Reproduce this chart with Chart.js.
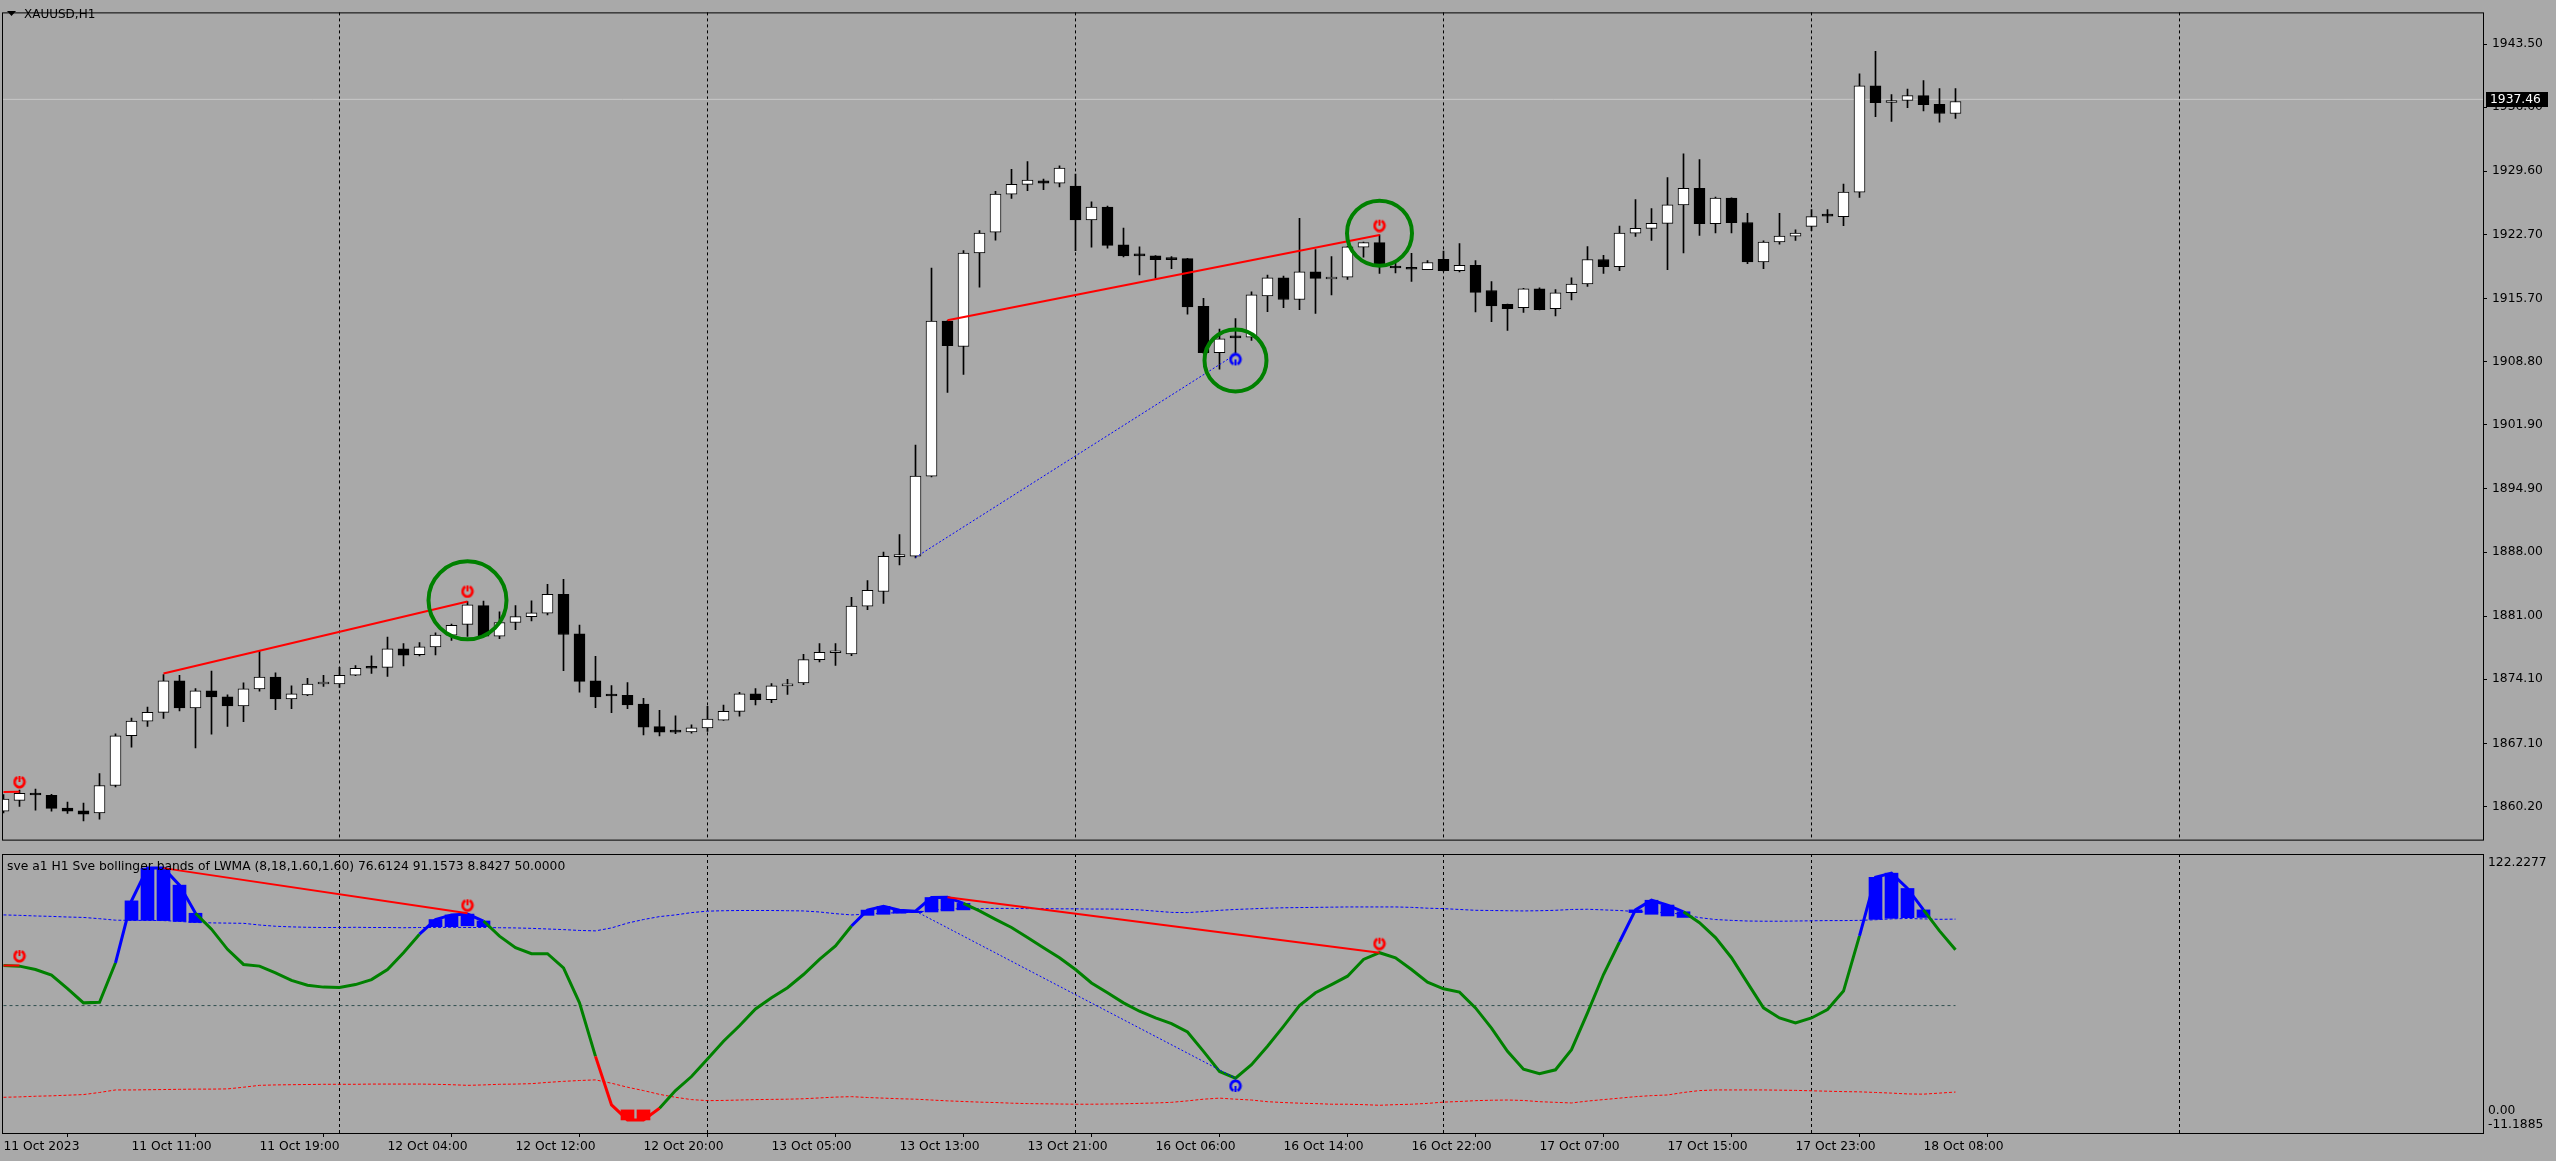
<!DOCTYPE html>
<html lang="en">
<head>
<meta charset="UTF-8">
<title>XAUUSD,H1</title>
<script src="https://cdn.jsdelivr.net/npm/chart.js"></script>
<style>
  body { margin: 0; background: #a9a9a9; overflow: hidden; }
  #priceChart, #oscChart { position: absolute; left: 0; }
  #priceChart { top: 0; }
  #oscChart { top: 853px; }
</style>
</head>
<body>
<canvas id="priceChart" width="2556" height="853"></canvas>
<canvas id="oscChart" width="2556" height="308"></canvas>

<script>
// time axis: one label every 8 bars
const timeLabels = ['11 Oct 2023', '11 Oct 11:00', '11 Oct 19:00', '12 Oct 04:00', '12 Oct 12:00', '12 Oct 20:00',
  '13 Oct 05:00', '13 Oct 13:00', '13 Oct 21:00', '16 Oct 06:00', '16 Oct 14:00', '16 Oct 22:00',
  '17 Oct 07:00', '17 Oct 15:00', '17 Oct 23:00', '18 Oct 08:00'];
const timeTickBars = [0, 8, 16, 24, 32, 40, 48, 56, 64, 72, 80, 88, 96, 104, 112, 120];
const daySeparators = [21, 44, 67, 90, 113, 136];
const priceTicks = [1860.20, 1867.10, 1874.10, 1881.00, 1888.00, 1894.90, 1901.90, 1908.80, 1915.70,
  1922.70, 1929.60, 1936.60, 1943.50];
const bidPrice = 1937.46;
const oscTicks = [122.2277, 0, -11.1885];
const oscTickText = ['122.2277', '0.00', '-11.1885'];

// XAUUSD H1 candles, bar 0 = 11 Oct 03:00
const opens = [
  1859.70, 1860.86, 1861.60, 1861.42, 1860.03, 1859.72, 1859.50, 1862.49, 1867.93, 1869.53,
  1870.49, 1873.93, 1870.98, 1872.83, 1872.19, 1871.20, 1873.05, 1874.33, 1871.94, 1872.40,
  1873.58, 1873.58, 1874.54, 1875.35, 1875.40, 1877.42, 1876.79, 1877.64, 1878.92, 1880.09,
  1882.15, 1878.81, 1880.30, 1880.94, 1881.33, 1883.39, 1879.06, 1873.94, 1872.30, 1872.34,
  1871.38, 1868.93, 1868.47, 1868.36, 1868.79, 1869.64, 1870.60, 1872.52, 1871.88, 1873.37,
  1873.69, 1876.25, 1877.00, 1876.88, 1882.09, 1883.69, 1887.50, 1887.54, 1896.30, 1913.24,
  1910.46, 1920.67, 1922.95, 1927.10, 1928.17, 1928.55, 1928.29, 1927.98, 1924.29, 1925.70,
  1921.58, 1920.40, 1920.36, 1920.00, 1920.06, 1914.84, 1909.78, 1911.50, 1911.49, 1915.99,
  1917.97, 1915.59, 1918.61, 1917.83, 1918.04, 1921.31, 1921.81, 1919.10, 1918.95, 1918.86,
  1919.99, 1918.75, 1919.32, 1916.58, 1915.06, 1914.70, 1916.76, 1914.59, 1916.33, 1917.29,
  1919.96, 1919.18, 1922.84, 1923.37, 1923.91, 1925.93, 1927.74, 1923.87, 1926.68, 1924.01,
  1919.71, 1921.88, 1922.52, 1923.59, 1924.72, 1924.65, 1927.32, 1938.94, 1937.12, 1937.34,
  1937.87, 1936.91, 1935.92];
const highs = [
  1861.50, 1862.00, 1862.10, 1861.53, 1860.68, 1860.57, 1863.80, 1868.14, 1869.85, 1871.06,
  1874.61, 1874.54, 1873.08, 1875.00, 1872.40, 1873.72, 1877.20, 1874.80, 1873.37, 1874.20,
  1874.54, 1875.40, 1875.60, 1876.67, 1878.70, 1877.99, 1878.10, 1879.17, 1880.13, 1882.58,
  1882.65, 1881.48, 1882.15, 1882.68, 1884.46, 1885.03, 1880.02, 1876.61, 1873.41, 1873.73,
  1872.02, 1870.71, 1870.10, 1869.11, 1871.13, 1871.28, 1872.66, 1873.09, 1873.62, 1874.08,
  1876.82, 1877.99, 1877.99, 1883.05, 1884.87, 1888.00, 1889.90, 1899.70, 1919.03, 1913.30,
  1920.94, 1923.11, 1927.41, 1929.81, 1930.65, 1928.74, 1930.19, 1929.31, 1926.27, 1925.81,
  1923.41, 1921.35, 1920.40, 1920.29, 1920.10, 1915.72, 1912.37, 1913.51, 1916.44, 1918.27,
  1918.15, 1924.47, 1921.06, 1920.28, 1921.40, 1921.88, 1922.66, 1919.60, 1920.64, 1919.85,
  1920.88, 1921.70, 1919.85, 1917.54, 1915.10, 1916.80, 1916.87, 1916.69, 1917.97, 1921.38,
  1920.42, 1923.62, 1926.50, 1925.54, 1928.92, 1931.51, 1930.87, 1926.78, 1926.70, 1925.01,
  1921.99, 1925.01, 1923.20, 1925.43, 1925.43, 1928.21, 1940.25, 1942.70, 1937.98, 1938.58,
  1939.51, 1938.65, 1938.65];
const lows = [
  1859.50, 1860.22, 1859.80, 1859.68, 1859.43, 1858.62, 1858.80, 1862.35, 1866.68, 1868.96,
  1869.81, 1870.63, 1866.61, 1868.10, 1868.96, 1869.46, 1872.80, 1870.77, 1870.88, 1872.30,
  1873.33, 1873.22, 1874.50, 1874.75, 1874.40, 1875.57, 1876.64, 1876.75, 1878.35, 1878.77,
  1878.80, 1878.53, 1879.52, 1880.48, 1881.12, 1875.04, 1872.70, 1871.00, 1870.46, 1870.89,
  1868.01, 1867.90, 1868.15, 1868.22, 1868.40, 1869.60, 1870.07, 1871.31, 1871.53, 1872.45,
  1873.52, 1876.00, 1875.62, 1876.68, 1881.71, 1882.40, 1886.60, 1887.35, 1896.20, 1905.44,
  1907.42, 1916.94, 1922.08, 1926.65, 1927.49, 1927.60, 1927.90, 1920.94, 1921.32, 1921.20,
  1920.25, 1918.27, 1917.89, 1918.96, 1914.00, 1909.70, 1907.99, 1909.70, 1911.11, 1914.27,
  1914.70, 1914.49, 1914.06, 1916.09, 1917.79, 1920.21, 1918.43, 1918.50, 1917.58, 1918.85,
  1918.70, 1918.60, 1914.24, 1913.17, 1912.21, 1914.17, 1914.45, 1913.81, 1915.55, 1917.01,
  1918.43, 1918.75, 1922.48, 1922.06, 1918.86, 1920.67, 1922.59, 1922.87, 1922.87, 1919.50,
  1918.96, 1921.63, 1922.06, 1923.12, 1923.98, 1923.66, 1926.75, 1935.56, 1935.06, 1936.56,
  1936.20, 1934.96, 1935.38];
const closes = [
  1861.00, 1861.64, 1861.45, 1860.00, 1859.68, 1859.36, 1862.49, 1867.93, 1869.53, 1870.49,
  1873.93, 1870.98, 1872.83, 1872.16, 1871.20, 1873.05, 1874.33, 1871.94, 1872.51, 1873.58,
  1873.60, 1874.54, 1875.30, 1875.30, 1877.42, 1876.74, 1877.64, 1878.92, 1879.98, 1882.22,
  1878.81, 1880.30, 1880.94, 1881.37, 1883.39, 1878.99, 1873.87, 1872.17, 1872.27, 1871.31,
  1868.86, 1868.33, 1868.33, 1868.79, 1869.75, 1870.60, 1872.52, 1871.88, 1873.37, 1873.59,
  1876.25, 1877.03, 1877.05, 1882.09, 1883.81, 1887.54, 1887.54, 1896.30, 1913.24, 1910.54,
  1920.67, 1922.84, 1927.10, 1928.17, 1928.63, 1928.30, 1929.96, 1924.29, 1925.70, 1921.51,
  1920.36, 1920.36, 1919.95, 1919.95, 1914.77, 1909.78, 1911.30, 1911.40, 1916.10, 1917.97,
  1915.59, 1918.61, 1917.90, 1918.04, 1921.35, 1921.81, 1919.50, 1919.03, 1918.90, 1919.64,
  1918.75, 1919.32, 1916.37, 1914.88, 1914.59, 1916.76, 1914.49, 1916.33, 1917.29, 1919.96,
  1919.18, 1922.84, 1923.37, 1923.91, 1925.93, 1927.74, 1923.87, 1926.68, 1923.98, 1919.71,
  1921.88, 1922.52, 1922.84, 1924.65, 1924.70, 1927.32, 1938.94, 1937.09, 1937.34, 1937.87,
  1936.88, 1935.92, 1937.23];

// Sve bollinger bands of LWMA
const oscValues = [
  69.1, 68.8, 67.2, 64.5, 58.1, 51.3, 51.6, 70.4, 99.9, 115.5,
  115.5, 107.4, 94.0, 86.4, 76.8, 69.6, 68.8, 65.6, 62.0, 59.7,
  58.8, 58.6, 60.0, 62.4, 67.2, 75.2, 84.0, 91.0, 93.2, 93.6,
  90.3, 83.1, 77.6, 74.7, 74.7, 68.0, 51.3, 25.8, 2.7, -4.5,
  -4.5, 1.1, 9.5, 16.2, 24.5, 33.0, 40.4, 48.4, 53.7, 58.5,
  64.8, 72.0, 78.4, 87.9, 95.5, 97.3, 95.4, 95.0, 101.5, 101.6,
  98.7, 95.1, 91.1, 87.2, 82.4, 77.6, 72.8, 67.2, 60.8, 56.1,
  51.3, 47.3, 44.1, 41.4, 37.4, 28.2, 18.6, 15.4, 21.8, 30.6,
  40.1, 50.0, 56.1, 60.0, 64.0, 72.0, 75.2, 72.8, 67.2, 61.2,
  58.0, 56.4, 48.9, 39.3, 28.2, 19.7, 17.5, 19.4, 29.0, 46.5,
  64.8, 80.3, 95.6, 100.2, 97.9, 94.7, 89.5, 82.4, 72.8, 60.8,
  48.9, 44.1, 41.7, 44.1, 48.1, 56.9, 83.2, 111.1, 113.1, 105.8,
  95.6, 85.6, 76.6];
const upperBand = [
  93.2, 93.0, 92.7, 92.5, 92.2, 92.0, 91.4, 90.7, 90.6, 90.6,
  90.5, 90.1, 89.6, 89.4, 89.3, 89.2, 88.4, 87.8, 87.5, 87.3,
  87.2, 87.2, 87.3, 87.2, 87.2, 87.1, 87.2, 87.2, 87.3, 87.2,
  87.2, 87.1, 87.0, 86.8, 86.5, 86.2, 85.8, 85.6, 87.0, 89.3,
  91.0, 92.4, 93.2, 94.3, 95.0, 95.2, 95.3, 95.3, 95.3, 95.2,
  95.1, 94.6, 93.8, 93.2, 93.6, 94.0, 94.3, 94.4, 95.4, 96.0,
  96.2, 96.2, 96.3, 96.3, 96.2, 96.2, 96.1, 96.1, 96.0, 96.0,
  95.9, 95.6, 95.0, 94.4, 94.3, 94.8, 95.4, 95.8, 96.1, 96.4,
  96.6, 96.7, 96.8, 96.9, 97.0, 97.0, 97.0, 97.0, 96.8, 96.4,
  96.2, 95.8, 95.4, 95.3, 95.2, 95.1, 95.2, 95.4, 95.8, 95.9,
  95.6, 95.3, 94.8, 94.5, 94.3, 93.4, 91.9, 91.0, 90.6, 90.3,
  90.2, 90.2, 90.3, 90.4, 90.5, 90.5, 90.6, 90.9, 91.3, 91.5,
  91.3, 91.1, 91.2];
const lowerBand = [
  6.3, 6.5, 6.8, 7.0, 7.3, 7.6, 8.6, 9.8, 9.8, 9.9,
  10.0, 10.1, 10.2, 10.2, 10.3, 11.1, 12.0, 12.2, 12.3, 12.4,
  12.5, 12.5, 12.5, 12.6, 12.6, 12.6, 12.6, 12.5, 12.3, 12.0,
  12.2, 12.5, 12.6, 12.8, 13.4, 13.9, 14.3, 14.6, 13.0, 11.1,
  9.5, 7.7, 6.3, 5.2, 4.7, 4.8, 5.0, 5.2, 5.3, 5.4,
  5.6, 6.0, 6.4, 6.6, 6.2, 5.9, 5.6, 5.4, 5.0, 4.6,
  4.3, 4.0, 3.8, 3.5, 3.3, 3.2, 3.1, 3.0, 3.0, 3.1,
  3.2, 3.4, 3.6, 3.9, 4.6, 5.4, 5.9, 5.4, 5.0, 4.2,
  3.8, 3.5, 3.3, 3.0, 3.0, 2.8, 2.5, 2.8, 3.0, 3.4,
  4.0, 4.3, 4.7, 4.9, 5.0, 4.8, 4.2, 3.9, 3.6, 4.5,
  5.2, 5.9, 6.6, 7.1, 7.4, 8.6, 9.5, 9.8, 9.8, 9.8,
  9.8, 9.7, 9.6, 9.4, 9.2, 9.0, 8.9, 8.6, 8.3, 7.9,
  7.8, 8.3, 8.8];
const midLevel = 50;
const histBars = [8, 9, 10, 11, 12, 27, 28, 29, 30, 39, 40, 54, 55, 56, 57, 58, 59, 60, 102, 103, 104, 105, 117, 118, 119, 120];
const histBase = [90.6, 90.6, 90.5, 90.1, 89.6, 87.6, 87.6, 88.0, 87.6, 0.3, 0.3, 93.0, 93.5, 94.0, 94.3, 94.6, 95.1, 95.6,
  94.3, 93.5, 92.7, 92.0, 91.1, 91.6, 91.9, 92.0];

// drawn objects: [bar, value]
const redLinesPrice = [[[0, 1861.78], [1, 1861.80]], [[10, 1874.72], [29, 1882.60]], [[59, 1913.32], [86, 1922.63]]];
const blueLinePrice = [[57, 1887.42], [77, 1909.59]];
const redLinesOsc = [[[0, 69.1], [1, 69.1]], [[10, 115.5], [29, 94.0]], [[59, 101.6], [86, 75.2]]];
const blueLineOsc = [[57, 95.0], [77, 15.4]];
const circleMarks = [[29, 1882.72], [77, 1908.94], [86, 1922.84]];
const redArrowsPrice = [[1, 1862.88], [29, 1883.70], [86, 1923.66]];
const blueArrowsPrice = [[77, 1909.05]];
const redArrowsOsc = [[1, 73.6], [29, 97.8], [86, 79.5]];
const blueArrowsOsc = [[77, 11.7]];

const xMin = -0.09375, xMax = 155.03125;
const priceMin = 1856.47, priceMax = 1946.964;
const oscMin = -11.1885, oscMax = 122.2277;

const axisFont = '12.3px "DejaVu Sans"';
Chart.defaults.font.family = '"DejaVu Sans", sans-serif';
Chart.defaults.font.size = 12.3;
Chart.defaults.color = '#000';

const pts = arr => arr.map(([x, y]) => ({ x, y }));

function arrowGlyph(color, gapTop) {
  const c = document.createElement('canvas');
  c.width = 14; c.height = 14;
  const g = c.getContext('2d');
  g.strokeStyle = color;
  g.lineWidth = 2.8;
  const gapAt = gapTop ? -Math.PI / 2 : Math.PI / 2;
  g.beginPath();
  g.ellipse(7, 7, 4.8, 5.2, 0, gapAt + 0.45, gapAt - 0.45 + Math.PI * 2);
  g.stroke();
  g.lineWidth = 2;
  g.beginPath();
  g.moveTo(7, gapTop ? 1 : 13);
  g.lineTo(7, 7);
  g.stroke();
  return c;
}
const redArrow = arrowGlyph('#ff0000', true);
const blueArrow = arrowGlyph('#0000ff', false);

function lineSet(points, color, width, dash, order) {
  return { type: 'line', data: pts(points), borderColor: color, borderWidth: width, borderDash: dash || [],
    pointRadius: 0, tension: 0, fill: false, order: order };
}

function markSet(points, glyph, order) {
  return { type: 'scatter', data: pts(points), pointStyle: glyph, pointRadius: 7, order: order };
}

const paneDecor = {
  id: 'paneDecor',
  beforeDatasetsDraw(chart) {
    const { ctx, chartArea: a, scales: { x } } = chart;
    ctx.save();
    ctx.strokeStyle = '#000';
    ctx.lineWidth = 1;
    ctx.setLineDash([3, 3]);
    daySeparators.forEach(b => {
      const px = x.getPixelForValue(b);
      ctx.beginPath();
      ctx.moveTo(px, a.top);
      ctx.lineTo(px, a.bottom);
      ctx.stroke();
    });
    ctx.restore();
  },
  afterDraw(chart, args, opts) {
    const { ctx, chartArea: a, scales: { y } } = chart;
    ctx.save();
    ctx.strokeStyle = '#000';
    ctx.lineWidth = 1;
    ctx.strokeRect(a.left + 0.5, a.top + 0.5, a.right - a.left - 1, a.bottom - a.top - 1);
    ctx.font = opts.titleFont;
    ctx.fillStyle = '#000';
    ctx.textBaseline = 'middle';
    ctx.textAlign = 'left';
    if (opts.triangle) {
      ctx.beginPath();
      ctx.moveTo(7, 11); ctx.lineTo(16, 11); ctx.lineTo(11.5, 16); ctx.closePath();
      ctx.fill();
    }
    ctx.fillText(opts.title, opts.titleX, opts.titleY);
    ctx.font = axisFont;
    if (opts.bid) {
      const py = Math.round(y.getPixelForValue(bidPrice));
      ctx.fillRect(a.right + 2, py - 7, 62, 15);
      ctx.fillStyle = '#fff';
      ctx.fillText(bidPrice.toFixed(2), a.right + 6, py + 1);
    }
    if (opts.oscLabels) {
      oscTicks.forEach((v, i) => {
        const py = Math.min(Math.max(y.getPixelForValue(v), a.top + 9), a.bottom - 9);
        ctx.fillText(oscTickText[i], a.right + 4, py);
      });
    }
    ctx.restore();
  }
};

// price pane
new Chart(document.getElementById('priceChart'), {
  type: 'bar',
  data: {
    datasets: [
      { type: 'scatter', data: pts(circleMarks), pointStyle: 'circle', pointRadius: [39, 31, 32.5],
        pointBorderWidth: 4, pointBorderColor: '#008000', pointBackgroundColor: 'rgba(0,0,0,0)', order: 0 },
      markSet(redArrowsPrice, redArrow, 1),
      markSet(blueArrowsPrice, blueArrow, 1),
      ...redLinesPrice.map(l => lineSet(l, '#ff0000', 2, null, 2)),
      lineSet(blueLinePrice, '#0000ff', 1, [2, 2], 2),
      { type: 'bar', data: opens.map((o, i) => ({ x: i, y: [o, closes[i]] })),
        backgroundColor: opens.map((o, i) => closes[i] >= o ? '#ffffff' : '#000000'),
        borderColor: '#000', borderWidth: 1, borderSkipped: false, barThickness: 11, minBarLength: 2,
        grouped: false, order: 3 },
      { type: 'bar', data: highs.map((h, i) => ({ x: i, y: [lows[i], h] })),
        backgroundColor: '#000', barThickness: 1, grouped: false, order: 4 },
      lineSet([[xMin, bidPrice], [xMax, bidPrice]], '#c8c8c8', 1, null, 5)
    ]
  },
  options: {
    responsive: false,
    animation: false,
    events: [],
    layout: { autoPadding: false, padding: { left: 2, top: 3, right: 0, bottom: 1 } },
    plugins: {
      legend: { display: false },
      tooltip: { enabled: false },
      paneDecor: { title: 'XAUUSD,H1', titleFont: '12px "DejaVu Sans"', titleX: 24, titleY: 14.5, triangle: true, bid: true }
    },
    scales: {
      x: { type: 'linear', display: false, min: xMin, max: xMax, offset: false },
      y: {
        position: 'right', min: priceMin, max: priceMax,
        afterBuildTicks: s => { s.ticks = priceTicks.map(v => ({ value: v })); },
        afterFit: s => { s.width = 72; },
        ticks: { autoSkip: false, padding: 5, callback: v => v.toFixed(2) },
        grid: { drawOnChartArea: false, tickLength: 3, color: '#000' },
        border: { display: false }
      }
    }
  },
  plugins: [paneDecor]
});

// oscillator pane
const oscState = i => oscValues[i] > upperBand[i] ? '#0000ff' : (oscValues[i] < lowerBand[i] ? '#ff0000' : '#008000');

new Chart(document.getElementById('oscChart'), {
  type: 'bar',
  data: {
    datasets: [
      markSet(redArrowsOsc, redArrow, 0),
      markSet(blueArrowsOsc, blueArrow, 0),
      ...redLinesOsc.map(l => lineSet(l, '#ff0000', 2, null, 1)),
      lineSet(blueLineOsc, '#0000ff', 1, [2, 2], 1),
      { type: 'line', data: oscValues.map((v, i) => ({ x: i, y: v })), borderWidth: 3, pointRadius: 0, tension: 0,
        borderColor: '#008000', segment: { borderColor: c => oscState(c.p1DataIndex) }, order: 2 },
      { type: 'bar', data: histBars.map((b, k) => ({ x: b, y: [histBase[k], oscValues[b]] })),
        backgroundColor: histBars.map((b, k) => oscValues[b] < histBase[k] ? '#ff0000' : '#0000ff'),
        barThickness: 13, grouped: false, order: 3 },
      { type: 'line', data: upperBand.map((v, i) => ({ x: i, y: v })), borderColor: '#0000ff', borderWidth: 1,
        borderDash: [3, 2], pointRadius: 0, tension: 0, order: 4 },
      { type: 'line', data: lowerBand.map((v, i) => ({ x: i, y: v })), borderColor: '#ff0000', borderWidth: 1,
        borderDash: [3, 2], pointRadius: 0, tension: 0, order: 4 },
      lineSet([[0, midLevel], [oscValues.length - 1, midLevel]], '#2f4f4f', 1, [3, 3], 5)
    ]
  },
  options: {
    responsive: false,
    animation: false,
    events: [],
    layout: { autoPadding: false, padding: { left: 2, top: 1, right: 0, bottom: 0 } },
    plugins: {
      legend: { display: false },
      tooltip: { enabled: false },
      paneDecor: {
        title: 'sve a1 H1 Sve bollinger bands of LWMA (8,18,1.60,1.60) 76.6124 91.1573 8.8427 50.0000',
        titleFont: axisFont, titleX: 7, titleY: 14, oscLabels: true
      }
    },
    scales: {
      x: {
        type: 'linear', min: xMin, max: xMax, offset: false,
        afterBuildTicks: s => { s.ticks = timeTickBars.map(v => ({ value: v })); },
        afterFit: s => { s.height = 27; },
        ticks: { align: 'start', padding: 2, maxRotation: 0, autoSkip: false, callback: (v, i) => timeLabels[i] },
        grid: { drawOnChartArea: false, tickLength: 3, color: '#000' },
        border: { display: false }
      },
      y: {
        position: 'right', min: oscMin, max: oscMax,
        afterFit: s => { s.width = 72; },
        ticks: { display: false },
        grid: { display: false },
        border: { display: false }
      }
    }
  },
  plugins: [paneDecor]
});
</script>
</body>
</html>
